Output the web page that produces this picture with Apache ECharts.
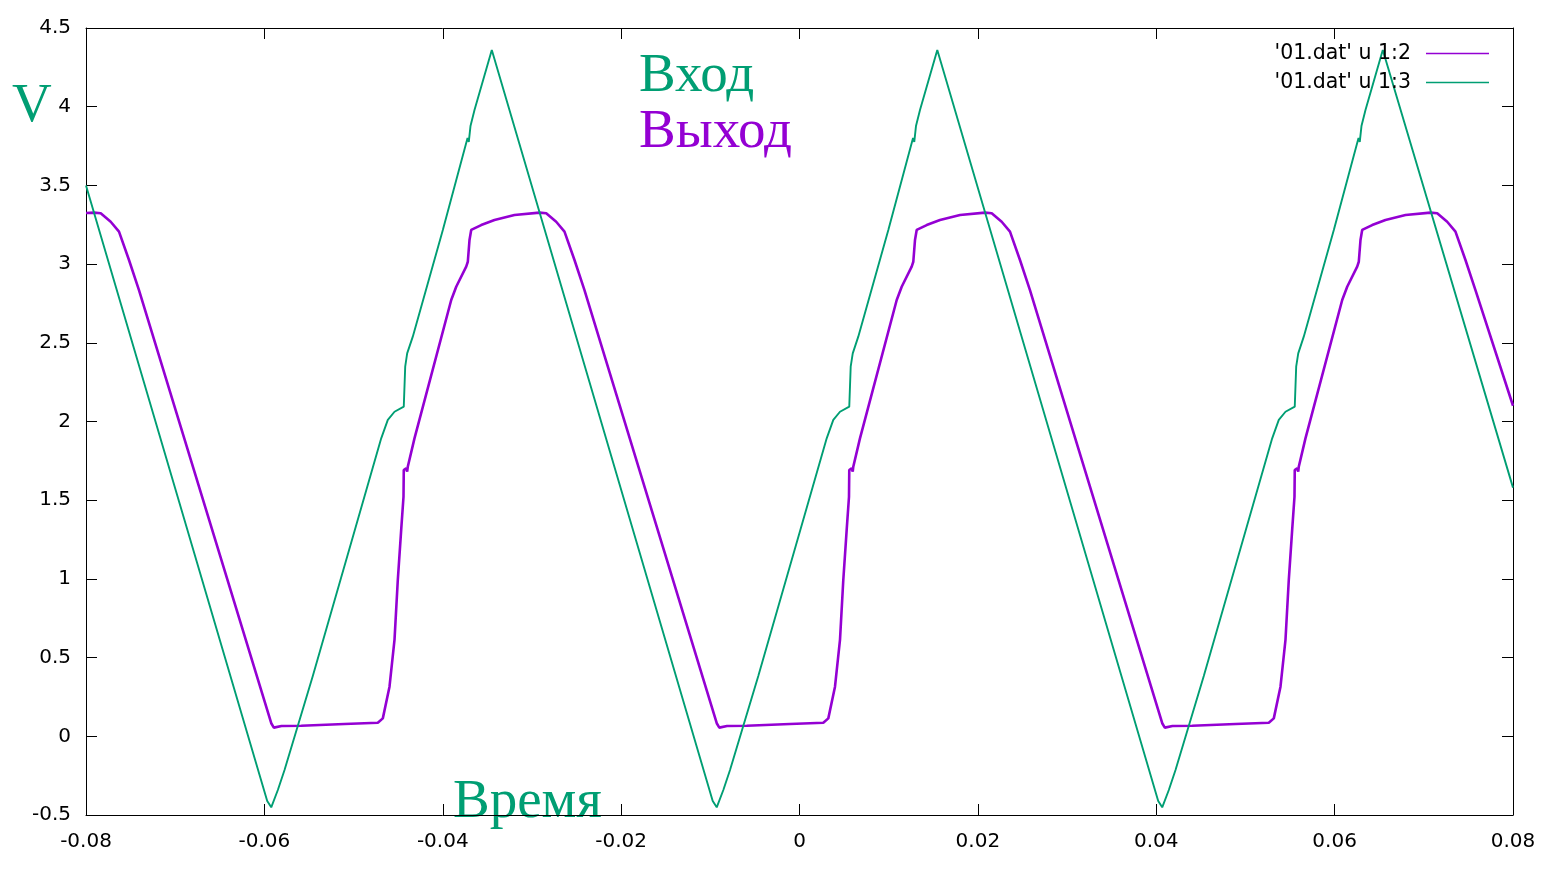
<!DOCTYPE html>
<html>
<head>
<meta charset="utf-8">
<script src="https://cdn.jsdelivr.net/npm/echarts@6/dist/echarts.min.js"></script>
<style>
html,body{margin:0;padding:0;background:#fff;}
#chart{width:1552px;height:872px;}
</style>
</head>
<body>
<div id="chart"></div>
<script>
// Input signal ("Вход"), column 3 — green
var inputT = [-0.0800,
  -0.05968,-0.05923,-0.05849,-0.05774,-0.05457,-0.04989,-0.04690,-0.04616,-0.04541,-0.04437,-0.04421,-0.04399,-0.04336,-0.03999,-0.03722,-0.03708,-0.03689,-0.03644,-0.03450,
  -0.00973,-0.00928,-0.00854,-0.00779,-0.00462,0.00006,0.00305,0.00379,0.00454,0.00558,0.00574,0.00597,0.00659,0.00996,0.01273,0.01287,0.01306,0.01351,0.01545,
  0.04022,0.04067,0.04141,0.04216,0.04533,0.05001,0.05300,0.05374,0.05449,0.05553,0.05569,0.05592,0.05654,0.05991,0.06268,0.06282,0.06301,0.06346,0.06540,
  0.0800];
var inputV = [3.50,
  -0.411,-0.451,-0.341,-0.214,0.383,1.305,1.893,2.010,2.062,2.094,2.348,2.433,2.539,3.217,3.801,3.776,3.877,3.979,4.360,
  -0.411,-0.451,-0.341,-0.214,0.383,1.305,1.893,2.010,2.062,2.094,2.348,2.433,2.539,3.217,3.801,3.776,3.877,3.979,4.360,
  -0.411,-0.451,-0.341,-0.214,0.383,1.305,1.893,2.010,2.062,2.094,2.348,2.433,2.539,3.217,3.801,3.776,3.877,3.979,4.360,
  1.58];

// Output signal ("Выход"), column 2 — purple
var outputT = [-0.0800,-0.07910,-0.07835,-0.07723,-0.07630,-0.07518,-0.07406,
  -0.05923,-0.05894,-0.05808,-0.05587,-0.05102,-0.04728,-0.04672,-0.04597,-0.04541,-0.04504,-0.04466,-0.04440,-0.04437,-0.04410,-0.04399,-0.04392,-0.04317,-0.03905,-0.03849,-0.03737,-0.03719,-0.03700,-0.03681,-0.03569,-0.03420,-0.03196,-0.02915,-0.02840,-0.02728,-0.02635,-0.02523,-0.02411,
  -0.00928,-0.00899,-0.00813,-0.00592,-0.00107,0.00267,0.00323,0.00398,0.00454,0.00491,0.00529,0.00555,0.00558,0.00585,0.00597,0.00603,0.00678,0.01090,0.01146,0.01258,0.01276,0.01295,0.01314,0.01426,0.01575,0.01800,0.02080,0.02155,0.02267,0.02360,0.02472,0.02584,
  0.04067,0.04096,0.04182,0.04403,0.04889,0.05262,0.05318,0.05393,0.05449,0.05486,0.05524,0.05550,0.05553,0.05580,0.05592,0.05598,0.05673,0.06085,0.06141,0.06253,0.06271,0.06290,0.06309,0.06421,0.06570,0.06795,0.07075,0.07150,0.07262,0.07355,0.07467,0.07579,
  0.0800];
var outputV = [3.325,3.327,3.323,3.269,3.206,3.026,2.835,
  0.083,0.055,0.065,0.067,0.078,0.086,0.114,0.315,0.612,0.993,1.311,1.522,1.692,1.703,1.681,1.713,1.893,2.772,2.856,2.984,3.015,3.153,3.217,3.248,3.280,3.312,3.327,3.323,3.269,3.206,3.026,2.835,
  0.083,0.055,0.065,0.067,0.078,0.086,0.114,0.315,0.612,0.993,1.311,1.522,1.692,1.703,1.681,1.713,1.893,2.772,2.856,2.984,3.015,3.153,3.217,3.248,3.280,3.312,3.327,3.323,3.269,3.206,3.026,2.835,
  0.083,0.055,0.065,0.067,0.078,0.086,0.114,0.315,0.612,0.993,1.311,1.522,1.692,1.703,1.681,1.713,1.893,2.772,2.856,2.984,3.015,3.153,3.217,3.248,3.280,3.312,3.327,3.323,3.269,3.206,3.026,2.835,
  2.10];

var legendNames = ["'01.dat' u 1:2", "'01.dat' u 1:3"];
var xTickLabels = ['-0.08','-0.06','-0.04','-0.02','0','0.02','0.04','0.06','0.08'];
var yTickLabels = ['-0.5','0','0.5','1','1.5','2','2.5','3','3.5','4','4.5'];
var xMin = -0.08, xMax = 0.08, xStep = 0.02;
var yMin = -0.5, yMax = 4.5, yStep = 0.5;

function pairs(t, v) { return t.map(function (x, i) { return [x, v[i]]; }); }
function xFmt(val) { var i = Math.round((val - xMin) / xStep); return xTickLabels[i] || ''; }
function yFmt(val) { var i = Math.round((val - yMin) / yStep); return yTickLabels[i] || ''; }

var GREEN = '#009e73', PURPLE = '#9400d3';
var tickFont = { fontFamily: 'DejaVu Sans', fontSize: 20, color: '#000' };
var axisCommon = {
  axisLine: { show: true, onZero: false, lineStyle: { color: '#000', width: 1 } },
  axisTick: { show: true, inside: true, length: 11, lineStyle: { color: '#000', width: 1 } },
  splitLine: { show: false }
};

var chart = echarts.init(document.getElementById('chart'), null, { renderer: 'canvas' });
chart.setOption({
  animation: false,
  backgroundColor: '#fff',
  grid: { left: 86, right: 39, top: 28, bottom: 57, containLabel: false },
  xAxis: [
    Object.assign({ type: 'value', position: 'bottom', min: xMin, max: xMax, interval: xStep,
      axisLabel: Object.assign({ margin: 17, formatter: xFmt }, tickFont) }, axisCommon),
    Object.assign({ type: 'value', position: 'top', min: xMin, max: xMax, interval: xStep,
      axisLabel: { show: false } }, axisCommon)
  ],
  yAxis: [
    Object.assign({ type: 'value', position: 'left', min: yMin, max: yMax, interval: yStep,
      axisLabel: Object.assign({ margin: 15, formatter: yFmt }, tickFont) }, axisCommon),
    Object.assign({ type: 'value', position: 'right', min: yMin, max: yMax, interval: yStep,
      axisLabel: { show: false } }, axisCommon)
  ],
  legend: {
    orient: 'vertical', right: 58, top: 38, align: 'right',
    icon: 'rect', itemWidth: 63, itemHeight: 1.3, itemGap: 8,
    textStyle: { fontFamily: 'DejaVu Sans', fontSize: 20.5, color: '#000', lineHeight: 20, padding: [0, 10, 0, 0] },
    data: legendNames
  },
  series: [
    { name: legendNames[0], type: 'line', xAxisIndex: 0, yAxisIndex: 0, symbol: 'none', showSymbol: false,
      lineStyle: { color: PURPLE, width: 2.6 }, itemStyle: { color: PURPLE }, data: pairs(outputT, outputV) },
    { name: legendNames[1], type: 'line', xAxisIndex: 0, yAxisIndex: 0, symbol: 'none', showSymbol: false,
      lineStyle: { color: GREEN, width: 1.9 }, itemStyle: { color: GREEN }, data: pairs(inputT, inputV) }
  ],
  graphic: [
    { type: 'text', left: 12, top: 79, style: { text: 'V', font: '55px "Liberation Serif"', fill: GREEN } },
    { type: 'text', left: 639, top: 49, style: { text: 'Вход', font: '55px "Liberation Serif"', fill: GREEN } },
    { type: 'text', left: 639, top: 105, style: { text: 'Выход', font: '55px "Liberation Serif"', fill: PURPLE } },
    { type: 'text', left: 453, top: 775, style: { text: 'Время', font: '55px "Liberation Serif"', fill: GREEN } }
  ]
});
</script>
</body>
</html>
